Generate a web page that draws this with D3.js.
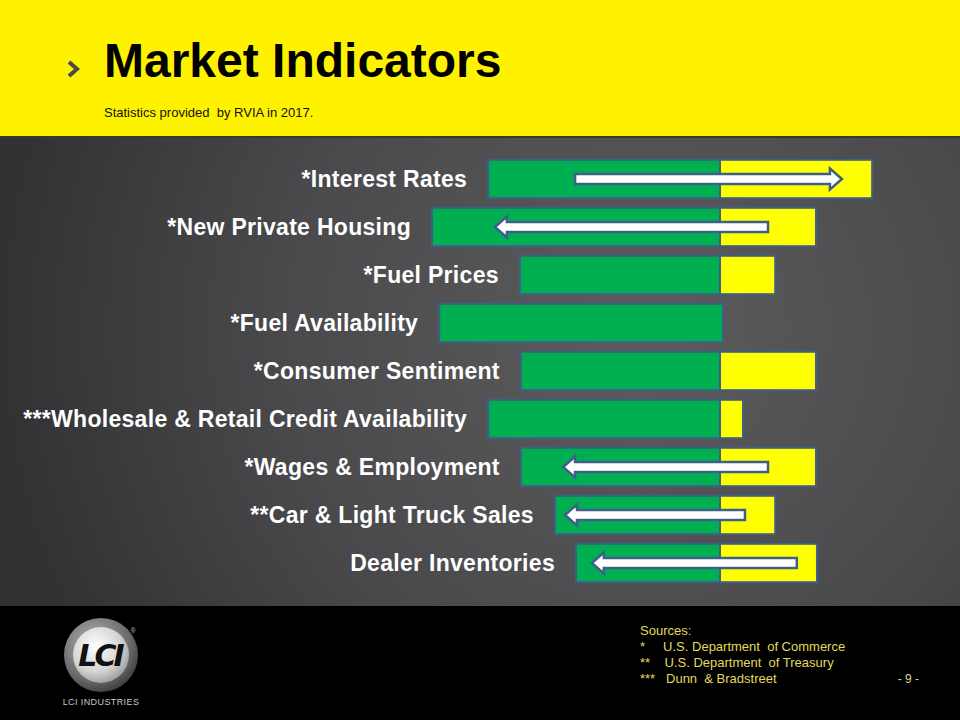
<!DOCTYPE html>
<html>
<head>
<meta charset="utf-8">
<script src="https://cdn.jsdelivr.net/npm/d3@7/dist/d3.min.js"></script>
<style>
  html, body { margin: 0; padding: 0; background: #000; }
  svg { display: block; }
</style>
</head>
<body>
<svg id="chart" width="960" height="720"></svg>
<script>
// ---- data ----
const categories = [
  "*Interest Rates",
  "*New Private Housing",
  "*Fuel Prices",
  "*Fuel Availability",
  "*Consumer Sentiment",
  "***Wholesale & Retail Credit Availability",
  "*Wages & Employment",
  "**Car & Light Truck Sales",
  "Dealer Inventories"
];
const negativeValues = [-4.83, -6.0, -4.17, -5.85, -4.15, -4.83, -4.15, -3.44, -3.0];
const positiveValues = [3.17, 2.0, 1.15, 0, 2.0, 0.48, 2.0, 1.15, 2.02];
const arrowFrom = [-3.02, 1.0, null, null, null, null, 1.0, 0.52, 1.6];
const arrowTo   = [2.54, -4.69, null, null, null, null, -3.27, -3.23, -2.67];
const title = "Market Indicators";
const subtitle = "Statistics provided  by RVIA in 2017.";
const sources = ["Sources:", "*     U.S. Department  of Commerce", "**    U.S. Department  of Treasury", "***   Dunn  & Bradstreet"];
const pageLabel = "- 9 -";

// ---- drawing ----
const svg = d3.select("#chart");
const W = 960, H = 720;
const defs = svg.append("defs");

const bg = defs.append("radialGradient").attr("id", "bg")
  .attr("gradientUnits", "userSpaceOnUse")
  .attr("cx", 640).attr("cy", 330).attr("r", 640);
bg.append("stop").attr("offset", "0%").attr("stop-color", "#5c5c5d");
bg.append("stop").attr("offset", "55%").attr("stop-color", "#4a4a4c");
bg.append("stop").attr("offset", "100%").attr("stop-color", "#323235");

const logoOuter = defs.append("radialGradient").attr("id", "logoOuter")
  .attr("cx", "40%").attr("cy", "35%").attr("r", "70%");
logoOuter.append("stop").attr("offset", "0%").attr("stop-color", "#b8b8b8");
logoOuter.append("stop").attr("offset", "70%").attr("stop-color", "#6a6a6a");
logoOuter.append("stop").attr("offset", "100%").attr("stop-color", "#3a3a3a");
const logoInner = defs.append("radialGradient").attr("id", "logoInner")
  .attr("cx", "40%").attr("cy", "35%").attr("r", "75%");
logoInner.append("stop").attr("offset", "0%").attr("stop-color", "#ffffff");
logoInner.append("stop").attr("offset", "60%").attr("stop-color", "#d4d4d4");
logoInner.append("stop").attr("offset", "100%").attr("stop-color", "#8c8c8c");

// background panels
svg.append("rect").attr("x", 0).attr("y", 0).attr("width", W).attr("height", H).attr("fill", "url(#bg)");
svg.append("rect").attr("x", 0).attr("y", 0).attr("width", W).attr("height", 137).attr("fill", "#fff200");
svg.append("rect").attr("x", 0).attr("y", 136).attr("width", W).attr("height", 2).attr("fill", "#3a3a20");
svg.append("rect").attr("x", 0).attr("y", 606).attr("width", W).attr("height", 114).attr("fill", "#000");

// header
svg.append("path").attr("d", "M69,62 L77,69 L69,76")
  .attr("fill", "none").attr("stroke", "#4a4a4a").attr("stroke-width", 4);
svg.append("text").attr("x", 104).attr("y", 77)
  .attr("font-family", "Liberation Sans, Arial, sans-serif").attr("font-weight", "bold")
  .attr("font-size", 48).attr("fill", "#000").text(title);
svg.append("text").attr("x", 104).attr("y", 117)
  .attr("font-family", "Liberation Sans, Arial, sans-serif")
  .attr("font-size", 13).attr("fill", "#111").style("white-space", "pre").text(subtitle);

// scales
const x = d3.scaleLinear().domain([-6, 3.2]).range([432, 873.6]);
const y = d3.scaleBand().domain(categories).range([155, 587]).paddingInner(0.2).paddingOuter(0.1);

const rows = categories.map((c, i) => ({
  cat: c, neg: negativeValues[i], pos: positiveValues[i], from: arrowFrom[i], to: arrowTo[i]
}));

const borderColor = "#3d5f8a";
const g = svg.append("g");

// green (negative) bars
g.selectAll("rect.neg").data(rows).join("rect")
  .attr("class", "neg")
  .attr("x", d => x(d.neg)).attr("width", d => x(0) - x(d.neg) + (d.pos === 0 ? 3 : 0))
  .attr("y", d => y(d.cat)).attr("height", y.bandwidth())
  .attr("fill", "#00b050").attr("stroke", borderColor).attr("stroke-width", 2);

// yellow (positive) bars
g.selectAll("rect.pos").data(rows.filter(d => d.pos > 0)).join("rect")
  .attr("class", "pos")
  .attr("x", x(0)).attr("width", d => x(d.pos) - x(0))
  .attr("y", d => y(d.cat)).attr("height", y.bandwidth())
  .attr("fill", "#ffff00").attr("stroke", borderColor).attr("stroke-width", 2);

// labels
g.selectAll("text.lab").data(rows).join("text")
  .attr("class", "lab")
  .attr("x", d => x(d.neg) - 21)
  .attr("y", d => y(d.cat) + y.bandwidth() / 2 + 8)
  .attr("text-anchor", "end")
  .attr("font-family", "Liberation Sans, Arial, sans-serif").attr("font-weight", "bold")
  .attr("font-size", 23).attr("letter-spacing", 0.3)
  .attr("fill", "#ffffff").text(d => d.cat);

// arrows
function arrowPath(d) {
  const x1 = x(d.from), x2 = x(d.to);
  const cy = y(d.cat) + y.bandwidth() / 2;
  const s = x2 > x1 ? 1 : -1;
  const hl = 12, sh = 5, hh = 10.5;
  const xb = x2 - s * hl;
  return `M${x1},${cy - sh} L${xb},${cy - sh} L${xb},${cy - hh} L${x2},${cy} L${xb},${cy + hh} L${xb},${cy + sh} L${x1},${cy + sh} Z`;
}
g.selectAll("path.arrow").data(rows.filter(d => d.from !== null)).join("path")
  .attr("class", "arrow").attr("d", arrowPath)
  .attr("fill", "#ffffff").attr("stroke", borderColor).attr("stroke-width", 2.5)
  .attr("stroke-linejoin", "miter");

// logo
const logo = svg.append("g").attr("transform", "translate(101,655)");
logo.append("circle").attr("r", 37).attr("fill", "url(#logoOuter)");
logo.append("circle").attr("r", 28).attr("fill", "url(#logoInner)");
logo.append("text").attr("x", -1).attr("y", 11)
  .attr("text-anchor", "middle")
  .attr("font-family", "DejaVu Sans, sans-serif").attr("font-weight", "bold").attr("font-style", "italic")
  .attr("font-size", 30).attr("letter-spacing", -3).attr("fill", "#111").text("LCI");
svg.append("text").attr("x", 133).attr("y", 633).attr("text-anchor", "middle")
  .attr("font-family", "Liberation Sans, Arial, sans-serif").attr("font-size", 7).attr("fill", "#bbb").text("®");
svg.append("text").attr("x", 101).attr("y", 705).attr("text-anchor", "middle")
  .attr("font-family", "Liberation Sans, Arial, sans-serif").attr("font-size", 9)
  .attr("letter-spacing", 0.4).attr("fill", "#c8c8c8").text("LCI INDUSTRIES");

// sources
svg.selectAll("text.src").data(sources).join("text")
  .attr("class", "src")
  .attr("x", 640).attr("y", (d, i) => 635 + i * 16)
  .attr("font-family", "Liberation Sans, Arial, sans-serif").attr("font-size", 13)
  .attr("fill", "#e2da5c").style("white-space", "pre").text(d => d);
svg.append("text").attr("x", 919).attr("y", 683).attr("text-anchor", "end")
  .attr("font-family", "Liberation Sans, Arial, sans-serif").attr("font-size", 12)
  .attr("fill", "#d6d29a").style("white-space", "pre").text(pageLabel);
</script>
</body>
</html>
